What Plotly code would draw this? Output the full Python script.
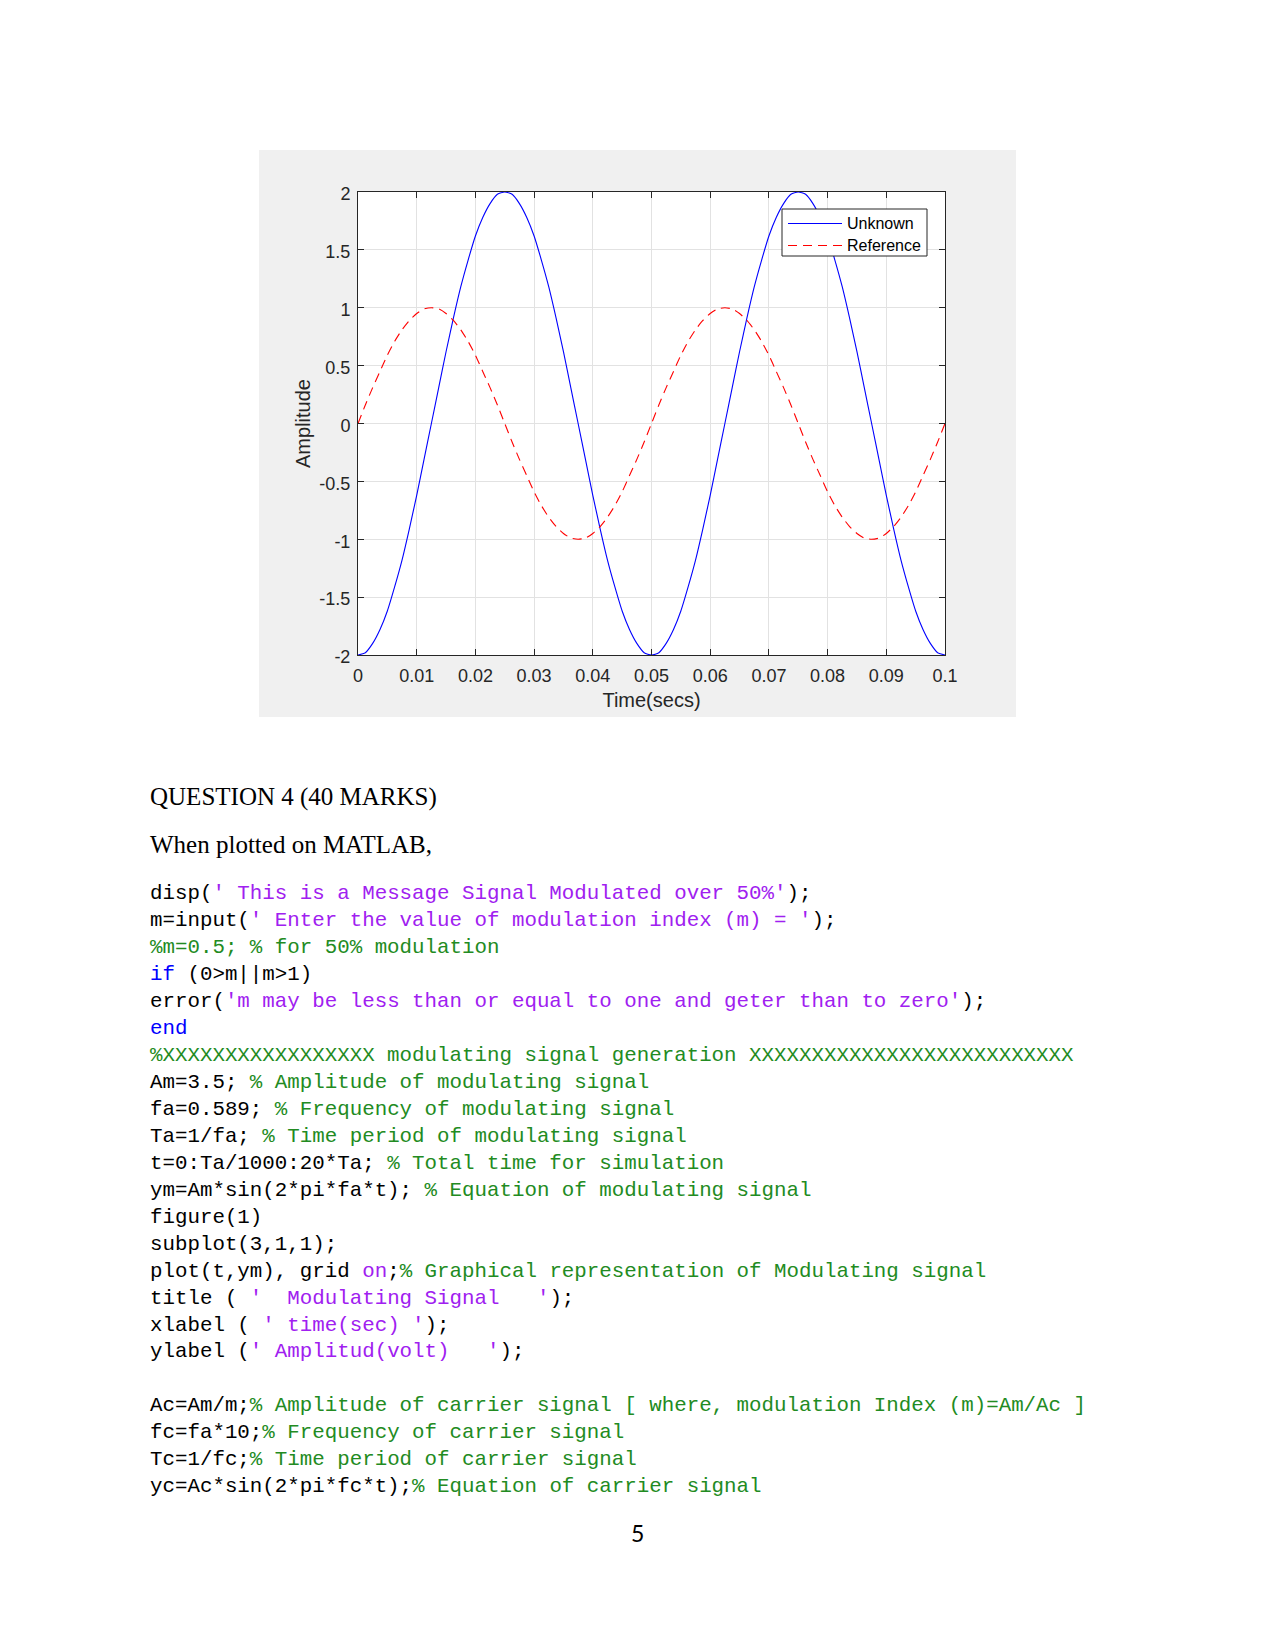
import plotly.graph_objects as go

# ---------------- data ----------------
time_s = [round(0.00125 * k, 5) for k in range(81)]
unknown = [-2.0, -1.98, -1.90, -1.78, -1.62, -1.41, -1.18, -0.91, -0.62, -0.31,
           0.0, 0.31, 0.62, 0.91, 1.18, 1.41, 1.62, 1.78, 1.90, 1.98,
           2.0, 1.98, 1.90, 1.78, 1.62, 1.41, 1.18, 0.91, 0.62, 0.31,
           0.0, -0.31, -0.62, -0.91, -1.18, -1.41, -1.62, -1.78, -1.90, -1.98,
           -2.0, -1.98, -1.90, -1.78, -1.62, -1.41, -1.18, -0.91, -0.62, -0.31,
           0.0, 0.31, 0.62, 0.91, 1.18, 1.41, 1.62, 1.78, 1.90, 1.98,
           2.0, 1.98, 1.90, 1.78, 1.62, 1.41, 1.18, 0.91, 0.62, 0.31,
           0.0, -0.31, -0.62, -0.91, -1.18, -1.41, -1.62, -1.78, -1.90, -1.98, -2.0]
reference = [0.0, 0.16, 0.31, 0.45, 0.59, 0.71, 0.81, 0.89, 0.95, 0.99,
             1.0, 0.99, 0.95, 0.89, 0.81, 0.71, 0.59, 0.45, 0.31, 0.16,
             0.0, -0.16, -0.31, -0.45, -0.59, -0.71, -0.81, -0.89, -0.95, -0.99,
             -1.0, -0.99, -0.95, -0.89, -0.81, -0.71, -0.59, -0.45, -0.31, -0.16,
             0.0, 0.16, 0.31, 0.45, 0.59, 0.71, 0.81, 0.89, 0.95, 0.99,
             1.0, 0.99, 0.95, 0.89, 0.81, 0.71, 0.59, 0.45, 0.31, 0.16,
             0.0, -0.16, -0.31, -0.45, -0.59, -0.71, -0.81, -0.89, -0.95, -0.99,
             -1.0, -0.99, -0.95, -0.89, -0.81, -0.71, -0.59, -0.45, -0.31, -0.16, 0.0]
series_names = ["Unknown", "Reference"]
x_ticks = [0, 0.01, 0.02, 0.03, 0.04, 0.05, 0.06, 0.07, 0.08, 0.09, 0.1]
x_tick_labels = ["0", "0.01", "0.02", "0.03", "0.04", "0.05", "0.06", "0.07", "0.08", "0.09", "0.1"]
y_ticks = [-2, -1.5, -1, -0.5, 0, 0.5, 1, 1.5, 2]
y_tick_labels = ["-2", "-1.5", "-1", "-0.5", "0", "0.5", "1", "1.5", "2"]

# ---------------- page geometry (pixels) ----------------
W, H = 1275, 1651
L, R, T, B = 358, 945, 192, 655


def px(x):
    return (x - L) / (R - L)


def py(y):
    return (B - y) / (B - T)


AX = "#262626"
GRID = "#E2E2E2"
BLUE, RED = "#0000FF", "#FF0000"
DASH = "9px,6px"

fig = go.Figure()
fig.add_trace(go.Scatter(x=time_s, y=unknown, mode="lines", name=series_names[0], showlegend=False,
                         line=dict(color=BLUE, width=1.1, shape="spline", smoothing=0.6)))
fig.add_trace(go.Scatter(x=time_s, y=reference, mode="lines", name=series_names[1], showlegend=False,
                         line=dict(color=RED, width=1.1, dash=DASH, shape="spline", smoothing=0.6)))

axis_common = dict(showline=True, linecolor=AX, linewidth=1, mirror="ticks",
                   ticks="inside", ticklen=6, tickcolor=AX, tickwidth=1,
                   showgrid=True, gridcolor=GRID, gridwidth=1, zeroline=False,
                   tickfont=dict(family="Liberation Sans, Arial", size=18, color=AX))

fig.update_xaxes(range=[0, 0.1], tickvals=x_ticks, ticktext=x_tick_labels, ticklabelstandoff=4,
                 title=dict(text="Time(secs)", font=dict(family="Liberation Sans, Arial", size=20, color=AX),
                            standoff=8),
                 **axis_common)
fig.update_yaxes(range=[-2, 2], tickvals=y_ticks, ticktext=y_tick_labels, ticklabelstandoff=3,
                 ticklabelshift=2,
                 title=dict(text="Amplitude", font=dict(family="Liberation Sans, Arial", size=20, color=AX),
                            standoff=3),
                 **axis_common)

shapes = [
    dict(type="rect", xref="paper", yref="paper", x0=px(259), x1=px(1016), y0=py(717), y1=py(150),
         fillcolor="#F0F0F0", line=dict(width=0), layer="below"),
    dict(type="rect", xref="paper", yref="paper", x0=0, x1=1, y0=0, y1=1,
         fillcolor="#FFFFFF", line=dict(width=0), layer="below"),
]

annotations = []

# ---------------- legend (MATLAB style box) ----------------
LEG_L, LEG_R, LEG_T, LEG_B = 782, 927, 209, 256
shapes.append(dict(type="rect", xref="paper", yref="paper", x0=px(LEG_L), x1=px(LEG_R),
                   y0=py(LEG_B), y1=py(LEG_T), fillcolor="#FFFFFF", line=dict(color=AX, width=1),
                   layer="above"))
for name, color, dash, yy in [(series_names[0], BLUE, "solid", 223.5), (series_names[1], RED, DASH, 245.5)]:
    shapes.append(dict(type="line", xref="paper", yref="paper", x0=px(788), x1=px(842), y0=py(yy), y1=py(yy),
                       line=dict(color=color, width=1.1, dash=dash), layer="above"))
    annotations.append(dict(text=name, x=px(845), y=py(yy), xref="paper", yref="paper",
                            xanchor="left", yanchor="middle", showarrow=False,
                            font=dict(family="Liberation Sans, Arial", size=16, color="#000000")))

# ---------------- document text ----------------
K, S, C, BL = "#000000", "#A020F0", "#228B22", "#0000FF"
code_lines = [
    [("disp(", K), ("' This is a Message Signal Modulated over 50%'", S), (");", K)],
    [("m=input(", K), ("' Enter the value of modulation index (m) = '", S), (");", K)],
    [("%m=0.5; % for 50% modulation", C)],
    [("if", BL), (" (0>m||m>1)", K)],
    [("error(", K), ("'m may be less than or equal to one and geter than to zero'", S), (");", K)],
    [("end", BL)],
    [("%XXXXXXXXXXXXXXXXX modulating signal generation XXXXXXXXXXXXXXXXXXXXXXXXXX", C)],
    [("Am=3.5; ", K), ("% Amplitude of modulating signal", C)],
    [("fa=0.589; ", K), ("% Frequency of modulating signal", C)],
    [("Ta=1/fa; ", K), ("% Time period of modulating signal", C)],
    [("t=0:Ta/1000:20*Ta; ", K), ("% Total time for simulation", C)],
    [("ym=Am*sin(2*pi*fa*t); ", K), ("% Equation of modulating signal", C)],
    [("figure(1)", K)],
    [("subplot(3,1,1);", K)],
    [("plot(t,ym), grid ", K), ("on", S), (";", K), ("% Graphical representation of Modulating signal", C)],
    [("title ( ", K), ("'  Modulating Signal   '", S), (");", K)],
    [("xlabel ( ", K), ("' time(sec) '", S), (");", K)],
    [("ylabel (", K), ("' Amplitud(volt)   '", S), (");", K)],
    [],
    [("Ac=Am/m;", K), ("% Amplitude of carrier signal [ where, modulation Index (m)=Am/Ac ]", C)],
    [("fc=fa*10;", K), ("% Frequency of carrier signal", C)],
    [("Tc=1/fc;", K), ("% Time period of carrier signal", C)],
    [("yc=Ac*sin(2*pi*fc*t);", K), ("% Equation of carrier signal", C)],
]

TEXT_X = 148.0
annotations.append(dict(text="QUESTION 4 (40 MARKS)", x=px(TEXT_X), y=py(797), xref="paper", yref="paper",
                        xanchor="left", yanchor="middle", showarrow=False,
                        font=dict(family="Liberation Serif, Times New Roman", size=25, color="#000000")))
annotations.append(dict(text="When plotted on MATLAB,", x=px(TEXT_X), y=py(844), xref="paper", yref="paper",
                        xanchor="left", yanchor="middle", showarrow=False,
                        font=dict(family="Liberation Serif, Times New Roman", size=25, color="#000000")))

y0_line, dy_line = 893.8, 26.95
for i, segs in enumerate(code_lines):
    if not segs:
        continue
    html = "".join('<span style="color:%s">%s</span>' % (col, txt.replace(" ", "\u00a0")) for txt, col in segs)
    annotations.append(dict(text=html, x=px(TEXT_X), y=py(y0_line + i * dy_line), xref="paper", yref="paper",
                            xanchor="left", yanchor="middle", showarrow=False,
                            font=dict(family="Liberation Mono, DejaVu Sans Mono, monospace", size=20.8,
                                      color="#000000")))

annotations.append(dict(text="5", x=px(637), y=py(1533), xref="paper", yref="paper",
                        xanchor="center", yanchor="middle", showarrow=False,
                        font=dict(family="Lato, Liberation Sans", size=23, color="#000000")))

fig.update_layout(
    width=W, height=H, autosize=False,
    margin=dict(l=L, r=W - R, t=T, b=H - B, pad=0),
    paper_bgcolor="#FFFFFF", plot_bgcolor="#FFFFFF",
    shapes=shapes, annotations=annotations,
    showlegend=False,
)

fig.write_html("out.html")
